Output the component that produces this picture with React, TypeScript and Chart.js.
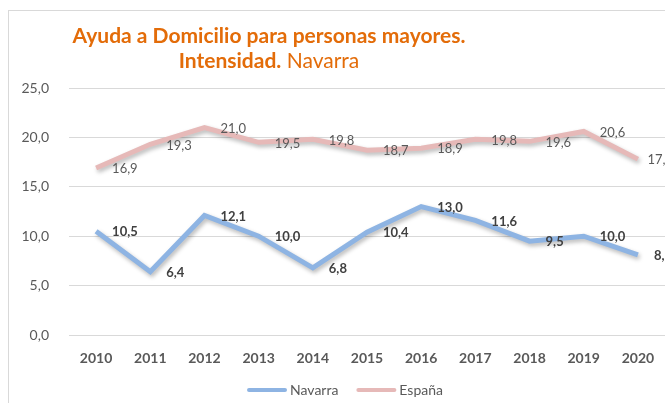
import React, { useEffect, useRef } from "react";
import { Chart, registerables } from "chart.js";

Chart.register(...registerables);

const years = ["2010", "2011", "2012", "2013", "2014", "2015", "2016", "2017", "2018", "2019", "2020"];
const navarra = [10.5, 6.4, 12.1, 10.0, 6.8, 10.4, 13.0, 11.6, 9.5, 10.0, 8.1];
const espana = [16.9, 19.3, 21.0, 19.5, 19.8, 18.7, 18.9, 19.8, 19.6, 20.6, 17.8];
const titleLine1 = "Ayuda a Domicilio para personas mayores.";
const titleLine2Bold = "Intensidad.";
const titleLine2Normal = " Navarra";

const FONT = "Lato, 'Open Sans', sans-serif";
const fmt = (v: number) => v.toFixed(1).replace(".", ",");

const shadowPlugin = {
  id: "shadow",
  beforeDatasetDraw(chart: any) {
    const ctx = chart.ctx;
    ctx.save();
    ctx.shadowColor = "rgba(0,0,0,0.28)";
    ctx.shadowBlur = 4;
    ctx.shadowOffsetX = 1.5;
    ctx.shadowOffsetY = 2.5;
  },
  afterDatasetDraw(chart: any) {
    chart.ctx.restore();
  },
};

const labelsPlugin = {
  id: "pointLabels",
  afterDatasetsDraw(chart: any) {
    const ctx = chart.ctx;
    chart.data.datasets.forEach((ds: any, i: number) => {
      const meta = chart.getDatasetMeta(i);
      ctx.save();
      ctx.font = (i === 0 ? "bold " : "") + "13px " + FONT;
      ctx.fillStyle = i === 0 ? "#404040" : "#595959";
      ctx.textAlign = "left";
      ctx.textBaseline = "middle";
      meta.data.forEach((pt: any, j: number) => {
        const t = fmt(ds.data[j]);
        const w = ctx.measureText(t).width;
        const x = Math.min(pt.x + 16, 665 - w);
        ctx.fillText(t, x, pt.y + 1);
      });
      ctx.restore();
    });
  },
};

const legendPlugin = {
  id: "customLegend",
  afterDraw(chart: any) {
    const ctx = chart.ctx;
    const ds = chart.data.datasets;
    ctx.save();
    ctx.font = "14px " + FONT;
    const lineW = 40;
    const gapText = 3;
    const gapItem = 18;
    const widths = ds.map((d: any) => ctx.measureText(d.label).width);
    let total = 0;
    widths.forEach((w: number, i: number) => {
      total += lineW + gapText + w + (i < widths.length - 1 ? gapItem : 0);
    });
    let x = 337 - total / 2;
    const y = 382;
    ds.forEach((d: any, i: number) => {
      ctx.strokeStyle = d.borderColor;
      ctx.lineWidth = 4;
      ctx.lineCap = "round";
      ctx.beginPath();
      ctx.moveTo(x + 2, y);
      ctx.lineTo(x + lineW - 2, y);
      ctx.stroke();
      ctx.fillStyle = "#595959";
      ctx.textAlign = "left";
      ctx.textBaseline = "middle";
      ctx.fillText(d.label, x + lineW + gapText, y);
      x += lineW + gapText + widths[i] + gapItem;
    });
    ctx.restore();
  },
};

const titlePlugin = {
  id: "customTitle",
  afterDraw(chart: any) {
    const ctx = chart.ctx;
    const cx = 261;
    ctx.save();
    ctx.fillStyle = "#E36C09";
    ctx.textBaseline = "alphabetic";
    ctx.textAlign = "left";
    ctx.font = "bold 21px " + FONT;
    const w1 = ctx.measureText(titleLine1).width;
    ctx.fillText(titleLine1, cx - w1 / 2, 35);
    const wb = ctx.measureText(titleLine2Bold).width;
    ctx.font = "21px " + FONT;
    const wn = ctx.measureText(titleLine2Normal).width;
    const x0 = cx - (wb + wn) / 2;
    ctx.font = "bold 21px " + FONT;
    ctx.fillText(titleLine2Bold, x0, 60);
    ctx.font = "21px " + FONT;
    ctx.fillText(titleLine2Normal, x0 + wb, 60);
    ctx.restore();
  },
};

export default function App() {
  const ref = useRef<HTMLCanvasElement>(null);
  useEffect(() => {
    document.documentElement.style.overflow = "hidden";
    if (!ref.current) return;
    const chart = new Chart(ref.current, {
      type: "line",
      data: {
        labels: years,
        datasets: [
          {
            label: "Navarra",
            data: navarra,
            borderColor: "#8EB4E3",
            backgroundColor: "#8EB4E3",
            borderWidth: 5,
            pointRadius: 0,
            tension: 0,
            fill: false,
          },
          {
            label: "España",
            data: espana,
            borderColor: "#E6B9B8",
            backgroundColor: "#E6B9B8",
            borderWidth: 5,
            pointRadius: 0,
            tension: 0,
            fill: false,
          },
        ],
      },
      options: {
        responsive: false,
        animation: false,
        layout: { padding: { top: 80, right: 8, left: 0, bottom: 41 } },
        plugins: {
          title: { display: false },
          tooltip: { enabled: false },
          legend: { display: false },
        },
        scales: {
          x: {
            offset: true,
            grid: { display: false, drawTicks: false },
            border: { display: false },
            ticks: {
              color: "#595959",
              font: { family: FONT, size: 14, weight: "bold" },
              padding: 15,
              maxRotation: 0,
              autoSkip: false,
            },
            afterFit(scale: any) {
              scale.height = 33;
            },
          },
          y: {
            min: 0,
            max: 25,
            grid: { color: "#D9D9D9", lineWidth: 1, drawTicks: false },
            border: { display: false },
            ticks: {
              stepSize: 5,
              color: "#595959",
              font: { family: FONT, size: 14 },
              padding: 20,
              callback: (v: any) => fmt(Number(v)),
            },
            afterFit(scale: any) {
              scale.width = 61;
            },
          },
        },
      },
      plugins: [shadowPlugin, labelsPlugin, legendPlugin, titlePlugin],
    });
    return () => chart.destroy();
  }, []);

  return (
    <div style={{ position: "fixed", left: 0, top: 0, width: 665, height: 403, overflow: "hidden", background: "#fff" }}>
      <div
        style={{
          position: "absolute",
          left: 8,
          top: 10,
          width: 720,
          height: 430,
          border: "1px solid #D9D9D9",
          boxSizing: "border-box",
        }}
      />
      <canvas ref={ref} width={665} height={401} style={{ position: "absolute", left: 8, top: 8, width: 665, height: 401 }} />
    </div>
  );
}
